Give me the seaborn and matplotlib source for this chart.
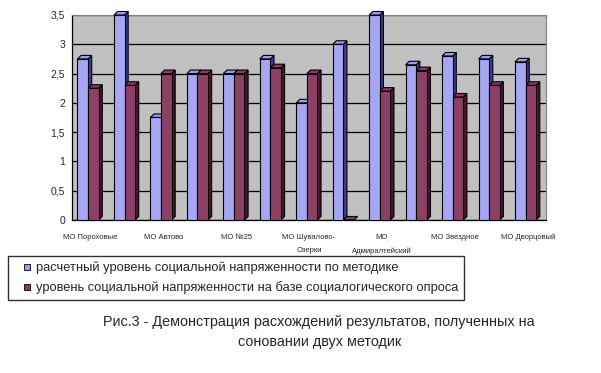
import numpy as np
import pandas as pd
import seaborn as sns
import matplotlib.pyplot as plt
from matplotlib.patches import Polygon
from matplotlib.lines import Line2D

# data
groups = ["g1", "g2", "g3", "g4", "g5", "g6", "g7", "g8", "g9", "g10", "g11", "g12", "g13"]
tick_labels = ["МО Пороховые", "", "МО Автово", "", "МО №25", "", "МО Шувалово-\nОзерки", "",
               "МО\nАдмиралтейский", "", "МО Звездное", "", "МО Дворцовый"]
calc_level = [2.75, 3.5, 1.75, 2.5, 2.5, 2.75, 2.0, 3.0, 3.5, 2.65, 2.8, 2.75, 2.7]
survey_level = [2.25, 2.3, 2.5, 2.5, 2.5, 2.6, 2.5, 0.0, 2.2, 2.55, 2.1, 2.3, 2.3]
series = ["расчетный уровень социальной напряженности по методике",
          "уровень социальной напряженности на базе социалогического опроса"]

df = pd.DataFrame({
    "group": groups * 2,
    "value": calc_level + survey_level,
    "series": [series[0]] * len(groups) + [series[1]] * len(groups),
})

front = ["#9999FF", "#993366"]
side = ["#3D3D99", "#4A1530"]

sns.set_style("white")
plt.rcParams["font.family"] = ["Liberation Sans", "DejaVu Sans"]

fig = plt.figure(figsize=(6.01, 3.73), dpi=100)
ax = fig.add_axes([72 / 601, 1 - 220 / 373, (546 - 72) / 601, (220 - 15) / 373])
sns.barplot(data=df, x="group", y="value", hue="series", palette=front, width=0.58,
            edgecolor="black", linewidth=0.8, ax=ax, legend=False, zorder=3)

ax.set_facecolor("#C0C0C0")
ax.set_xlim(-0.5, len(groups) - 0.5)
ax.set_ylim(0, 3.5)
ax.set_yticks(np.arange(0, 3.51, 0.5))
ax.set_yticklabels(["0", "0,5", "1", "1,5", "2", "2,5", "3", "3,5"], fontsize=7.5)
ax.yaxis.grid(True, color="black", linewidth=0.9, zorder=0)
ax.set_axisbelow(True)

# fake 3d faces from the bars seaborn drew
dx, dy = 0.1, 0.06
for i, cont in enumerate(ax.containers):
    for p in cont.patches:
        p.set_x(p.get_x() - 0.06)
        x0 = p.get_x()
        x1 = x0 + p.get_width()
        h = p.get_height()
        ax.add_patch(Polygon([(x1, 0), (x1 + dx, dy), (x1 + dx, h + dy), (x1, h)],
                             closed=True, facecolor=side[i], edgecolor="black",
                             linewidth=0.8, zorder=2.9, clip_on=False))
        ax.add_patch(Polygon([(x0, h), (x0 + dx, h + dy), (x1 + dx, h + dy), (x1, h)],
                             closed=True, facecolor=front[i], edgecolor="black",
                             linewidth=0.8, zorder=2.9, clip_on=False))

ax.set_xticks(np.arange(len(groups)) - 0.5, minor=True)
ax.set_xticks(np.arange(len(groups)))
ax.set_xticklabels(tick_labels, fontsize=5.5, linespacing=2.3)
ax.tick_params(axis="x", which="major", length=0, pad=10)
ax.tick_params(axis="x", which="minor", length=3, color="black", width=0.8)
ax.tick_params(axis="y", length=3, color="black", width=0.8, pad=2)
ax.set_xlabel("")
ax.set_ylabel("")
for s in ["top", "right"]:
    ax.spines[s].set_color("#808080")
for s in ["left", "bottom"]:
    ax.spines[s].set_color("black")
    ax.spines[s].set_linewidth(0.9)

handles = [Line2D([], [], linestyle="none", marker="s", markersize=5, markerfacecolor=c,
                  markeredgecolor="black", markeredgewidth=0.6) for c in front]
leg = fig.legend(handles, series, loc="lower left", bbox_to_anchor=(8 / 601, 1 - 300 / 373),
                 fontsize=9.3, frameon=True, fancybox=False, edgecolor="black",
                 handlelength=2.0, handletextpad=-0.3, borderpad=0.45,
                 labelspacing=0.55, borderaxespad=0)
leg.get_frame().set_linewidth(1)

fig.text(319 / 601, 1 - 322 / 373, "Рис.3 - Демонстрация расхождений результатов, полученных на",
         ha="center", va="center", fontsize=10.4)
fig.text(320 / 601, 1 - 342 / 373, "соновании двух методик", ha="center", va="center", fontsize=10.4)

fig.savefig("out.png", dpi=100)
